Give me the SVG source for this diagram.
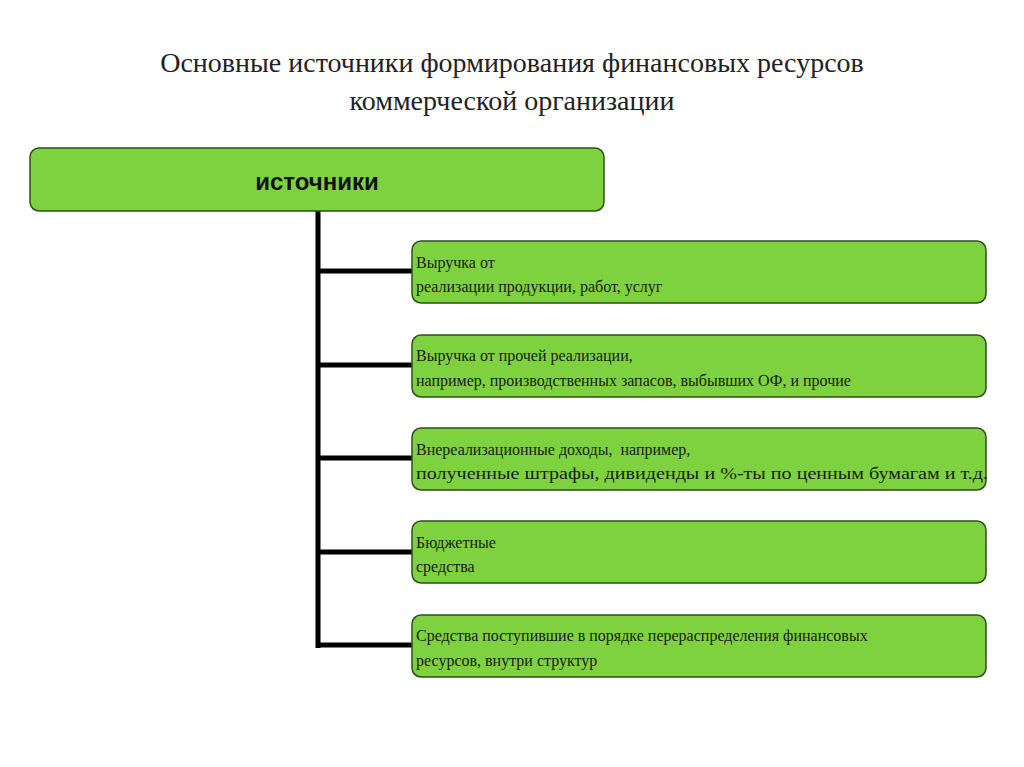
<svg xmlns="http://www.w3.org/2000/svg" width="1024" height="767" viewBox="0 0 1024 767">
<style>
.b{fill:#7ed23f;stroke:#2e4f1c;stroke-width:1.5}
.t{font-family:"Liberation Serif",serif;font-size:16px;fill:#1a1a1a}
.h{font-family:"Liberation Serif",serif;font-size:28px;fill:#222;text-anchor:middle}
.c{stroke:#000;stroke-width:5;fill:none}
</style>
<rect width="1024" height="767" fill="#fff"/>
<text class="h" x="512" y="72">Основные источники формирования финансовых ресурсов</text>
<text class="h" x="512" y="110">коммерческой организации</text>
<g id="connectors">
<path class="c" d="M318 211V648M316 271H412M316 365H412M316 458H412M316 552H412M316 645H412"/>
</g>
<g id="root"><rect class="b" x="30" y="148" width="574" height="63" rx="9"/>
<text x="317" y="190" text-anchor="middle" style="font-family:'Liberation Sans',sans-serif;font-weight:bold;font-size:24px;fill:#111">источники</text></g>
<g id="n1"><rect class="b" x="412" y="241" width="574" height="62" rx="9"/>
<text class="t" x="416" y="268">Выручка от</text><text class="t" x="416" y="292">реализации продукции, работ, услуг</text></g>
<g id="n2"><rect class="b" x="412" y="335" width="574" height="62" rx="9"/>
<text class="t" x="416" y="361">Выручка от прочей реализации,</text><text class="t" x="416" y="386">например, производственных запасов, выбывших ОФ, и прочие</text></g>
<g id="n3"><rect class="b" x="412" y="428" width="574" height="62" rx="9"/>
<text class="t" x="416" y="455" xml:space="preserve">Внереализационные доходы,  например,</text><text class="t" x="416" y="479" textLength="572" lengthAdjust="spacingAndGlyphs">полученные штрафы, дивиденды и %-ты по ценным бумагам и т.д.</text></g>
<g id="n4"><rect class="b" x="412" y="521" width="574" height="62" rx="9"/>
<text class="t" x="416" y="548">Бюджетные</text><text class="t" x="416" y="572">средства</text></g>
<g id="n5"><rect class="b" x="412" y="615" width="574" height="62" rx="9"/>
<text class="t" x="416" y="641">Средства поступившие в порядке перераспределения финансовых</text><text class="t" x="416" y="666">ресурсов, внутри структур</text></g>
</svg>
